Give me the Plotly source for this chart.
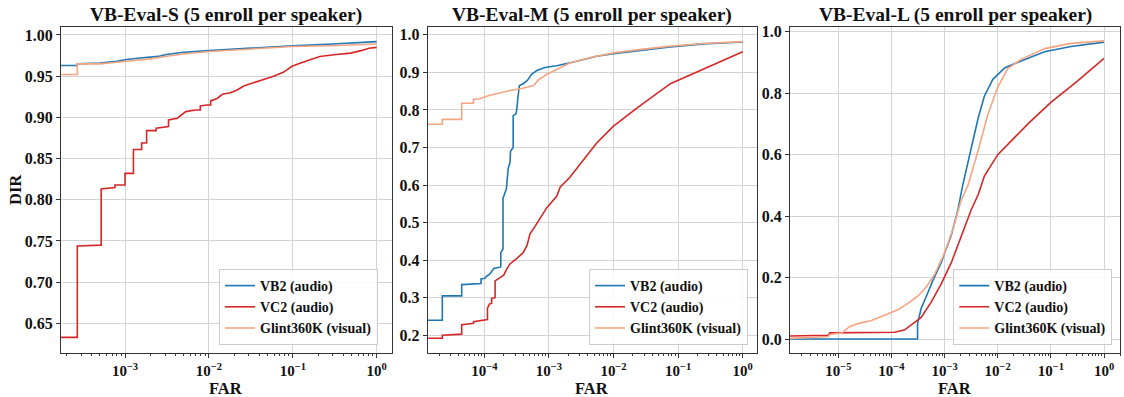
import plotly.graph_objects as go

# ---- VB-Eval-S ----
s_vb2_far = [1.73e-4, 2.7e-4, 2.7e-4, 5e-4, 8e-4, 1e-3, 1.5e-3, 2.5e-3, 3e-3, 5e-3, 1e-2, 3e-2, 1e-1, 3e-1, 6e-1, 1.0]
s_vb2_dir = [0.963, 0.963, 0.965, 0.966, 0.968, 0.970, 0.972, 0.974, 0.976, 0.979, 0.981, 0.984, 0.987, 0.989, 0.991, 0.992]
s_vc2_far = [1.73e-4, 2.7e-4, 2.7e-4, 5.2e-4, 5.2e-4, 7.6e-4, 7.6e-4, 1e-3, 1e-3, 1.26e-3, 1.26e-3,
             1.58e-3, 1.58e-3, 1.81e-3, 1.81e-3, 2.35e-3, 2.35e-3, 3.0e-3, 3.3e-3, 3.3e-3, 4.2e-3,
             5.3e-3, 6.9e-3, 7.9e-3, 7.9e-3, 9.5e-3, 1.05e-2, 1.05e-2, 1.25e-2, 1.45e-2, 1.8e-2,
             2.15e-2, 2.6e-2, 3.4e-2, 4.5e-2, 5.9e-2, 7.8e-2, 9.8e-2, 0.124, 0.162, 0.21, 0.31,
             0.49, 0.65, 0.81, 1.0]
s_vc2_dir = [0.633, 0.633, 0.744, 0.745, 0.813, 0.815, 0.818, 0.818, 0.832, 0.832, 0.861,
             0.861, 0.869, 0.869, 0.884, 0.884, 0.887, 0.889, 0.889, 0.897, 0.899,
             0.907, 0.909, 0.909, 0.914, 0.915, 0.915, 0.920, 0.923, 0.928, 0.930,
             0.933, 0.938, 0.942, 0.946, 0.950, 0.955, 0.962, 0.966, 0.970, 0.974, 0.976,
             0.978, 0.981, 0.984, 0.985]
s_gl_far = [1.73e-4, 2.7e-4, 2.7e-4, 5e-4, 8e-4, 1e-3, 2e-3, 3e-3, 5e-3, 1e-2, 3e-2, 1e-1, 3e-1, 1.0]
s_gl_dir = [0.952, 0.952, 0.965, 0.965, 0.967, 0.968, 0.971, 0.974, 0.977, 0.980, 0.983, 0.986, 0.987, 0.989]

# ---- VB-Eval-M ----
m_vb2_far = [1.33e-5, 2.24e-5, 2.24e-5, 4.47e-5, 4.47e-5, 8.9e-5, 8.9e-5, 1.02e-4, 1.1e-4, 1.2e-4,
             1.3e-4, 1.4e-4, 1.8e-4, 1.8e-4, 1.95e-4, 1.95e-4, 2.1e-4, 2.2e-4, 2.25e-4, 2.35e-4,
             2.5e-4, 2.55e-4, 2.8e-4, 2.8e-4, 3.1e-4, 3.2e-4, 3.35e-4, 3.5e-4, 4e-4, 4.6e-4,
             5.4e-4, 6.5e-4, 8.7e-4, 1.32e-3, 2.7e-3, 5.5e-3, 1e-2, 2.3e-2, 7.6e-2, 0.25, 1.0]
m_vb2_dir = [0.240, 0.240, 0.305, 0.305, 0.335, 0.338, 0.350, 0.352, 0.358, 0.362,
             0.370, 0.378, 0.382, 0.420, 0.430, 0.565, 0.580, 0.590, 0.610, 0.645,
             0.660, 0.690, 0.700, 0.785, 0.790, 0.805, 0.840, 0.865, 0.870, 0.878,
             0.895, 0.905, 0.913, 0.918, 0.930, 0.943, 0.950, 0.958, 0.968, 0.976, 0.981]
m_vc2_far = [1.33e-5, 2.24e-5, 2.24e-5, 4.47e-5, 4.47e-5, 6.8e-5, 6.8e-5, 9e-5, 1.12e-4, 1.12e-4,
             1.2e-4, 1.3e-4, 1.3e-4, 1.47e-4, 1.47e-4, 1.8e-4, 2.0e-4, 2.2e-4, 2.5e-4, 3.2e-4,
             4.0e-4, 4.6e-4, 5.1e-4, 6.1e-4, 7.3e-4, 9.3e-4, 1.32e-3, 1.5e-3, 2.1e-3, 3.5e-3,
             5.5e-3, 1e-2, 2.3e-2, 7.6e-2, 0.25, 1.0]
m_vc2_dir = [0.192, 0.192, 0.200, 0.203, 0.228, 0.232, 0.236, 0.240, 0.242, 0.272,
             0.283, 0.285, 0.298, 0.300, 0.345, 0.355, 0.360, 0.375, 0.390, 0.405,
             0.420, 0.440, 0.470, 0.490, 0.510, 0.540, 0.570, 0.595, 0.620, 0.670,
             0.712, 0.757, 0.805, 0.870, 0.910, 0.955]
m_gl_far = [1.33e-5, 2.24e-5, 2.24e-5, 4.47e-5, 4.47e-5, 6.8e-5, 6.8e-5, 8.5e-5, 1.15e-4, 1.7e-4,
            2.5e-4, 3.8e-4, 5.8e-4, 6.9e-4, 9.3e-4, 1.32e-3, 2.1e-3, 4.4e-3, 1e-2, 2.3e-2,
            7.6e-2, 0.25, 1.0]
m_gl_dir = [0.762, 0.762, 0.775, 0.775, 0.818, 0.818, 0.828, 0.830, 0.838, 0.845,
            0.852, 0.857, 0.865, 0.880, 0.895, 0.908, 0.925, 0.940, 0.952, 0.960,
            0.970, 0.977, 0.982]

# ---- VB-Eval-L ----
l_vb2_far = [1.23e-6, 3.1e-4, 3.1e-4, 3.63e-4, 4.57e-4, 6.0e-4, 8.7e-4, 1.35e-3, 1.78e-3, 2.19e-3,
             3.16e-3, 4.3e-3, 5.6e-3, 8.1e-3, 1.35e-2, 2.75e-2, 7.6e-2, 0.24, 1.0]
l_vb2_dir = [0.0, 0.0, 0.05, 0.10, 0.14, 0.19, 0.25, 0.34, 0.42, 0.50,
             0.62, 0.72, 0.79, 0.845, 0.882, 0.905, 0.935, 0.952, 0.966]
l_vc2_far = [1.23e-6, 6.5e-6, 6.9e-6, 2e-5, 1.15e-4, 1.78e-4, 2.34e-4, 3.63e-4, 5.6e-4, 8.7e-4,
             1.35e-3, 2.04e-3, 3.16e-3, 4.3e-3, 5.6e-3, 1e-2, 1.78e-2, 3.7e-2, 0.1, 0.32, 1.0]
l_vc2_dir = [0.010, 0.012, 0.020, 0.020, 0.022, 0.030, 0.045, 0.070, 0.120, 0.180,
             0.250, 0.330, 0.420, 0.470, 0.530, 0.600, 0.645, 0.700, 0.770, 0.840, 0.913]
l_gl_far = [1.23e-6, 6.5e-6, 6.9e-6, 1.2e-5, 1.32e-5, 1.62e-5, 2.34e-5, 4.2e-5, 7.4e-5, 1.32e-4,
            2.04e-4, 3.16e-4, 4.57e-4, 6.5e-4, 1e-3, 1.45e-3, 2.04e-3, 2.75e-3, 4.3e-3, 6.5e-3,
            1e-2, 1.55e-2, 2.75e-2, 7.6e-2, 0.24, 1.0]
l_gl_dir = [0.002, 0.008, 0.015, 0.020, 0.027, 0.040, 0.050, 0.060, 0.077, 0.095,
            0.116, 0.140, 0.170, 0.210, 0.280, 0.360, 0.450, 0.500, 0.615, 0.730,
            0.820, 0.880, 0.910, 0.945, 0.962, 0.970]

titles = ["VB-Eval-S (5 enroll per speaker)", "VB-Eval-M (5 enroll per speaker)",
          "VB-Eval-L (5 enroll per speaker)"]
names = ["VB2 (audio)", "VC2 (audio)", "Glint360K (visual)"]
colors = ["#1f77b4", "#d62728", "#f4a582"]

panels = [
    [(s_vb2_far, s_vb2_dir), (s_vc2_far, s_vc2_dir), (s_gl_far, s_gl_dir)],
    [(m_vb2_far, m_vb2_dir), (m_vc2_far, m_vc2_dir), (m_gl_far, m_gl_dir)],
    [(l_vb2_far, l_vb2_dir), (l_vc2_far, l_vc2_dir), (l_gl_far, l_gl_dir)],
]

W, H = 1124, 397
FONT = "Liberation Serif"
x_dom = [(61, 391.7), (427.7, 756.7), (790, 1120)]
y_dom = [1 - 353.3 / H, 1 - 27 / H]
x_rng = [[-3.763, 0.179], [-4.876, 0.217], [-5.909, 0.301]]
y_rng = [[0.6137, 1.0097], [0.152, 1.021], [-0.0465, 1.0153]]
y_ticks = [[0.65, 0.70, 0.75, 0.80, 0.85, 0.90, 0.95, 1.00],
           [0.2, 0.3, 0.4, 0.5, 0.6, 0.7, 0.8, 0.9, 1.0],
           [0.0, 0.2, 0.4, 0.6, 0.8, 1.0]]
y_fmt = [".2f", ".1f", ".1f"]
x_exps = [[-3, -2, -1, 0], [-4, -3, -2, -1, 0], [-5, -4, -3, -2, -1, 0]]
leg_right = [379, 749, 1113.3]

fig = go.Figure()
annotations = []
for p in range(3):
    sfx = "" if p == 0 else str(p + 1)
    leg = "legend" + sfx
    for k, (far, dr) in enumerate(panels[p]):
        fig.add_trace(go.Scatter(
            x=far, y=dr, mode="lines", name=names[k],
            line=dict(color=colors[k], width=1.6),
            xaxis="x" + sfx, yaxis="y" + sfx, legend=leg,
        ))

    lo, hi = x_rng[p]
    minor_vals = [m * 10 ** e for e in range(int(lo) - 1, int(hi) + 1) for m in range(2, 10)]
    x0, x1 = x_dom[p]
    fig.update_layout({
        "xaxis" + sfx: dict(
            type="log", domain=[x0 / W, x1 / W], range=x_rng[p], anchor="y" + sfx,
            automargin=False,
            tickmode="array", tickvals=[10 ** e for e in x_exps[p]],
            ticktext=["10<sup>%s</sup>" % str(e).replace("-", "\u2212") for e in x_exps[p]],
            ticks="outside", ticklen=4, tickcolor="#333", showline=True, mirror=True,
            linecolor="#333", linewidth=1, showgrid=True, gridcolor="#d4d4d4", gridwidth=1,
            tickfont=dict(family=FONT, size=15, color="#111", weight="bold"),
            minor=dict(tickmode="array", tickvals=minor_vals, ticks="outside", ticklen=2,
                       tickcolor="#333", showgrid=False),
            zeroline=False,
        ),
        "yaxis" + sfx: dict(
            domain=y_dom, range=y_rng[p], anchor="x" + sfx, automargin=False,
            tickmode="array", tickvals=y_ticks[p], tickformat=y_fmt[p],
            ticks="outside", ticklen=4, tickcolor="#333", showline=True, mirror=True,
            linecolor="#333", linewidth=1, showgrid=True, gridcolor="#d4d4d4", gridwidth=1,
            tickfont=dict(family=FONT, size=16, color="#111", weight="bold"),
            zeroline=False,
        ),
        leg: dict(
            x=(leg_right[p] - 1) / W, y=1 - 345 / H, xanchor="right", yanchor="bottom",
            bgcolor="rgba(255,255,255,0.85)", bordercolor="#cccccc", borderwidth=1,
            font=dict(family=FONT, size=14, color="#111", weight="bold"),
            itemwidth=30, tracegroupgap=0,
        ),
    })
    cx = (x0 + x1) / 2 / W
    annotations.append(dict(text=titles[p], x=cx, y=1 - 15 / H, xref="paper", yref="paper",
                            showarrow=False, xanchor="center", yanchor="middle",
                            font=dict(family=FONT, size=19.5, color="#111", weight="bold")))
    annotations.append(dict(text="FAR", x=cx, y=1 - 388 / H, xref="paper", yref="paper",
                            showarrow=False, xanchor="center", yanchor="middle",
                            font=dict(family=FONT, size=16.5, color="#111", weight="bold")))

annotations.append(dict(text="DIR", x=15 / W, y=1 - 190 / H, xref="paper", yref="paper",
                        showarrow=False, textangle=-90, xanchor="center", yanchor="middle",
                        font=dict(family=FONT, size=16.5, color="#111", weight="bold")))

fig.update_layout(
    width=W, height=H, margin=dict(l=0, r=0, t=0, b=0),
    paper_bgcolor="white", plot_bgcolor="white",
    annotations=annotations, showlegend=True,
)

# the page's default body margin would push the figure 8px off the window
fig.write_html("out.html", config={"displayModeBar": False},
               post_script="document.body.style.margin='0';")
